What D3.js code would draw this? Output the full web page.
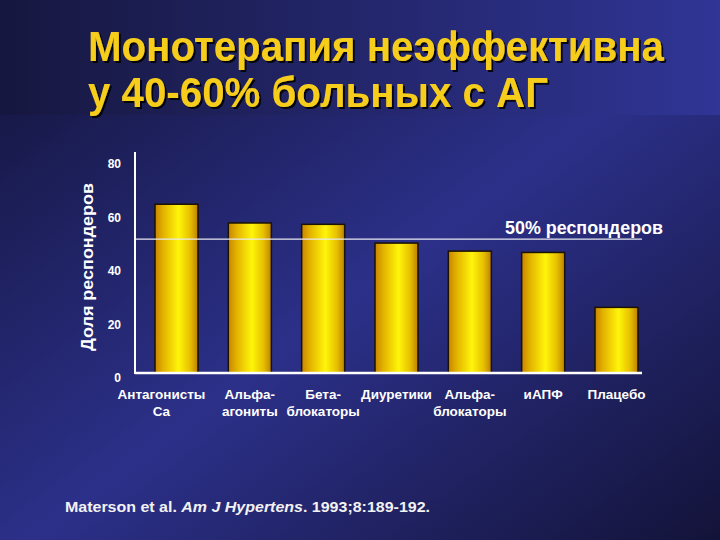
<!DOCTYPE html>
<html>
<head>
<meta charset="utf-8">
<script src="https://cdnjs.cloudflare.com/ajax/libs/d3/7.8.5/d3.min.js"></script>
<style>
  html, body { margin: 0; padding: 0; background: #1a1b50; }
  svg { display: block; font-family: "Liberation Sans", Arial, sans-serif; }
</style>
</head>
<body>
<div id="chart"></div>
<script>
// chart data
var categories = [
  ["Антагонисты", "Ca"],
  ["Альфа-", "агониты"],
  ["Бета-", "блокаторы"],
  ["Диуретики"],
  ["Альфа-", "блокаторы"],
  ["иАПФ"],
  ["Плацебо"]
];
var responders = [63, 56, 55.5, 48.5, 45.5, 45, 24.5];
var yTicks = [0, 20, 40, 60, 80];
var refValue = 50;
var refLabel = "50% респондеров";
var titleLines = ["Монотерапия неэффективна", "у 40-60% больных с АГ"];
var yLabel = "Доля респондеров";

var W = 720, H = 540;

// plot area (window.top is reserved, so plot* names)
var plotLeft = 135, plotRight = 642, plotBase = 373, plotTop = 152;

var svg = d3.select("#chart").append("svg")
  .attr("width", W)
  .attr("height", H);

var defs = svg.append("defs");

// background: bright along the bottom-left / top-right diagonal
var bg = defs.append("linearGradient").attr("id", "bg")
  .attr("x1", 0).attr("y1", 0).attr("x2", 1).attr("y2", 1);
bg.append("stop").attr("offset", 0).attr("stop-color", "#121338");
bg.append("stop").attr("offset", 0.52).attr("stop-color", "#2c3089");
bg.append("stop").attr("offset", 1).attr("stop-color", "#131339");

var band = defs.append("linearGradient").attr("id", "band")
  .attr("x1", 0).attr("y1", 0).attr("x2", 1).attr("y2", 0);
band.append("stop").attr("offset", 0).attr("stop-color", "#16173f");
band.append("stop").attr("offset", 1).attr("stop-color", "#303596");

// bar fill: orange edges, yellow middle
var barGrad = defs.append("linearGradient").attr("id", "barGrad")
  .attr("x1", 0).attr("y1", 0).attr("x2", 1).attr("y2", 0);
barGrad.append("stop").attr("offset", 0).attr("stop-color", "#c98500");
barGrad.append("stop").attr("offset", 0.2).attr("stop-color", "#e3b400");
barGrad.append("stop").attr("offset", 0.55).attr("stop-color", "#fff50a");
barGrad.append("stop").attr("offset", 0.82).attr("stop-color", "#e6bf00");
barGrad.append("stop").attr("offset", 1).attr("stop-color", "#bd8000");

var shadow = defs.append("filter").attr("id", "shadow");
shadow.append("feDropShadow")
  .attr("dx", 2).attr("dy", 2).attr("stdDeviation", 0.6)
  .attr("flood-color", "#000").attr("flood-opacity", 0.85);

svg.append("rect").attr("width", W).attr("height", H).attr("fill", "url(#bg)");
svg.append("rect").attr("width", W).attr("height", 115).attr("fill", "url(#band)");

// title
svg.append("g").selectAll("text")
  .data(titleLines)
  .enter().append("text")
  .attr("x", 88)
  .attr("y", function(d, i) { return 61 + i * 46; })
  .attr("textLength", function(d, i) { return i === 0 ? 576 : 460; })
  .attr("lengthAdjust", "spacingAndGlyphs")
  .style("font-size", "42px")
  .style("font-weight", "bold")
  .attr("fill", "#f7cd1c")
  .attr("filter", "url(#shadow)")
  .text(function(d) { return d; });

// scales
var x = d3.scaleBand()
  .domain(d3.range(categories.length))
  .range([plotLeft, 658])
  .paddingInner(0.4136)
  .paddingOuter(0.2727);

var y = d3.scaleLinear()
  .domain([0, 82.5])
  .range([plotBase, plotTop]);

// bars
svg.append("g").selectAll("rect")
  .data(responders)
  .enter().append("rect")
  .attr("x", function(d, i) { return x(i); })
  .attr("y", function(d) { return y(d); })
  .attr("width", x.bandwidth())
  .attr("height", function(d) { return plotBase - y(d); })
  .attr("fill", "url(#barGrad)")
  .attr("stroke", "#1b1200")
  .attr("stroke-width", 1.5);

// 50% line
svg.append("line")
  .attr("x1", plotLeft).attr("x2", plotRight)
  .attr("y1", y(refValue)).attr("y2", y(refValue))
  .attr("stroke", "#e8e8f0")
  .attr("stroke-width", 1.2);

svg.append("text")
  .attr("x", 505)
  .attr("y", y(refValue) - 5)
  .attr("textLength", 158)
  .attr("lengthAdjust", "spacingAndGlyphs")
  .style("font-size", "18px")
  .style("font-weight", "bold")
  .attr("fill", "#ffffff")
  .text(refLabel);

// axes lines
svg.append("line")
  .attr("x1", plotLeft).attr("x2", plotLeft)
  .attr("y1", plotTop).attr("y2", plotBase + 1)
  .attr("stroke", "#ffffff").attr("stroke-width", 2);
svg.append("line")
  .attr("x1", plotLeft).attr("x2", plotRight)
  .attr("y1", plotBase).attr("y2", plotBase)
  .attr("stroke", "#ffffff").attr("stroke-width", 2.5);

// y ticks (labels only, sitting a little below their value)
var yAxis = svg.append("g")
  .attr("transform", "translate(" + plotLeft + ",5)")
  .call(d3.axisLeft(y).tickValues(yTicks).tickSize(0).tickPadding(14));
yAxis.select(".domain").remove();
yAxis.selectAll("text")
  .attr("fill", "#ffffff")
  .style("font-size", "12px")
  .style("font-weight", "bold")
  .style("font-family", "'Liberation Sans', Arial, sans-serif");

// y label
svg.append("text")
  .attr("transform", "translate(93,267) rotate(-90)")
  .attr("textLength", 168)
  .attr("lengthAdjust", "spacingAndGlyphs")
  .style("text-anchor", "middle")
  .style("font-size", "17px")
  .style("font-weight", "bold")
  .attr("fill", "#ffffff")
  .text(yLabel);

// category labels
var cat = svg.append("g").selectAll("text")
  .data(categories)
  .enter().append("text")
  .attr("x", function(d, i) {
    // first label is pushed left on the slide so it clears its neighbour
    return x(i) + x.bandwidth() / 2 - (i === 0 ? 15 : 0);
  })
  .attr("y", 399)
  .style("text-anchor", "middle")
  .style("font-size", "13.5px")
  .style("font-weight", "bold")
  .attr("fill", "#ffffff");

cat.selectAll("tspan")
  .data(function(d) { return d; })
  .enter().append("tspan")
  .attr("x", function() { return d3.select(this.parentNode).attr("x"); })
  .attr("dy", function(d, i) { return i === 0 ? 0 : 17; })
  .text(function(d) { return d; });

// source
var src = svg.append("text")
  .attr("x", 65)
  .attr("y", 512)
  .attr("textLength", 365)
  .attr("lengthAdjust", "spacingAndGlyphs")
  .style("font-size", "15.5px")
  .style("font-weight", "bold")
  .attr("fill", "#f2f2f2");
src.append("tspan").text("Materson et al. ");
src.append("tspan").style("font-style", "italic").text("Am J Hypertens");
src.append("tspan").text(". 1993;8:189-192.");
</script>
</body>
</html>
